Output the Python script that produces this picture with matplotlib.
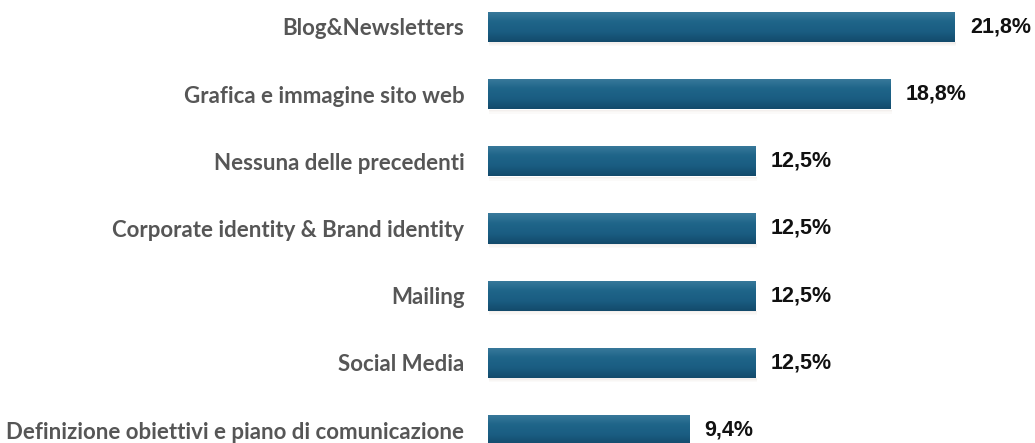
import numpy as np
import matplotlib.pyplot as plt
from matplotlib.colors import LinearSegmentedColormap

categories = [
    "Blog&Newsletters",
    "Grafica e immagine sito web",
    "Nessuna delle precedenti",
    "Corporate identity & Brand identity",
    "Mailing",
    "Social Media",
    "Definizione obiettivi e piano di comunicazione",
]
values = [21.8, 18.8, 12.5, 12.5, 12.5, 12.5, 9.4]
value_labels = ["21,8%", "18,8%", "12,5%", "12,5%", "12,5%", "12,5%", "9,4%"]

fig = plt.figure(figsize=(10.35, 4.43), dpi=100)
ax = fig.add_axes([488 / 1035, 0, 1 - 488 / 1035, 1])

y = np.arange(len(categories))
bars = ax.barh(y, values, height=0.45, color="#1d5e82", zorder=2)

# vertical shading inside each bar: lighter top, darker bottom
shade = LinearSegmentedColormap.from_list(
    "shade", ["#3a7a9c", "#1f6589", "#1a5d82", "#134a6b"])
grad = np.linspace(0, 1, 64).reshape(-1, 1)
for b in bars:
    x0, y0, w, h = b.get_x(), b.get_y(), b.get_width(), b.get_height()
    # soft shadow under the bar
    for k, a in enumerate([0.10, 0.06, 0.03]):
        ax.fill_between([x0 + 0.05, x0 + w + 0.05],
                        y0 + h + 0.005 + 0.02 * k, y0 + h + 0.025 + 0.02 * k,
                        color="#8a6a50", alpha=a, lw=0, zorder=1)
    im = ax.imshow(grad, cmap=shade, aspect="auto",
                   extent=[x0, x0 + w, y0 + h, y0], zorder=3,
                   interpolation="bicubic")
    im.set_clip_path(b)

for yi, v, lab in zip(y, values, value_labels):
    ax.annotate(lab, (v, yi), xytext=(11, 0), textcoords="offset points",
                ha="left", va="center", fontsize=15.5, fontweight="bold",
                family="Liberation Sans", color="#111111")

ax.set_yticks(y)
ax.set_yticklabels(categories, fontsize=16, fontweight="bold",
                   family="Lato", color="#565656")
ax.tick_params(axis="y", length=0, pad=17)
ax.set_xticks([])
ax.set_xlim(0, (1035 - 488) / 21.42)
ax.set_ylim(6 + 13 / 67.2, -27 / 67.2)
for s in ax.spines.values():
    s.set_visible(False)

fig.savefig("out.png", dpi=100, facecolor="white")
